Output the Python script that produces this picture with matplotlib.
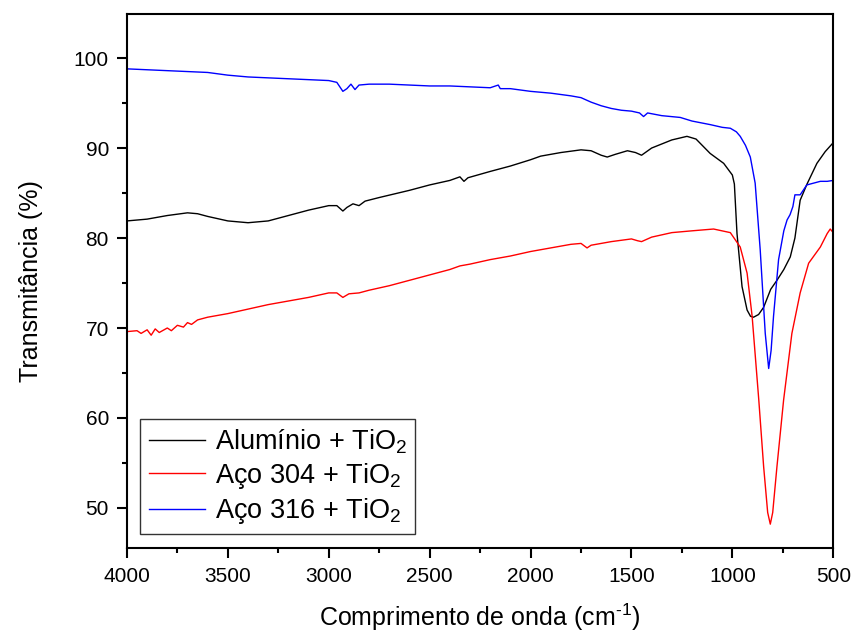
import matplotlib
matplotlib.use("Agg")
import matplotlib.pyplot as plt
from matplotlib.ticker import MultipleLocator

plt.rcParams['font.family'] = ['Liberation Sans', 'DejaVu Sans']
plt.rcParams['mathtext.fontset'] = 'custom'
plt.rcParams['mathtext.rm'] = 'Liberation Sans'
plt.rcParams['mathtext.it'] = 'Liberation Sans'

# Alumínio + TiO2
wn_al = [4000, 3900, 3800, 3700, 3650, 3600, 3500, 3400, 3300, 3200, 3100, 3000, 2960, 2930,
         2910, 2880, 2850, 2820, 2750, 2600, 2500, 2400, 2350, 2330, 2310, 2200, 2100, 2000,
         1950, 1850, 1750, 1700, 1650, 1620, 1580, 1520, 1480, 1450, 1400, 1300, 1225, 1180,
         1110, 1043, 1000, 990, 977, 952, 927, 910, 895, 870, 845, 810, 779, 745, 713, 690,
         664, 630, 581, 540, 500]
t_al = [81.9, 82.1, 82.5, 82.8, 82.7, 82.4, 81.9, 81.7, 81.9, 82.5, 83.1, 83.6, 83.6, 83.0,
        83.4, 83.8, 83.6, 84.1, 84.5, 85.3, 85.9, 86.4, 86.8, 86.3, 86.7, 87.4, 88.0, 88.7,
        89.1, 89.5, 89.8, 89.7, 89.2, 89.0, 89.3, 89.7, 89.5, 89.2, 90.0, 90.9, 91.3, 91.0,
        89.4, 88.3, 87.0, 86.0, 80.5, 74.6, 72.0, 71.3, 71.2, 71.5, 72.3, 74.3, 75.3, 76.5, 77.9, 80.0,
        84.2, 86.0, 88.3, 89.6, 90.6]

# Aço 304 + TiO2
wn_304 = [4000, 3950, 3930, 3900, 3880, 3860, 3840, 3800, 3780, 3750, 3720, 3700, 3680, 3650,
          3600, 3500, 3400, 3300, 3200, 3100, 3000, 2960, 2930, 2900, 2850, 2800, 2700, 2600,
          2500, 2400, 2350, 2300, 2200, 2100, 2000, 1900, 1800, 1750, 1720, 1700, 1600, 1500,
          1470, 1450, 1400, 1300, 1200, 1093, 1010, 961, 927, 902, 869, 845, 825, 812, 800,
          779, 746, 705, 664, 622, 564, 530, 515, 500]
t_304 = [69.6, 69.7, 69.4, 69.8, 69.2, 69.9, 69.5, 70.0, 69.7, 70.3, 70.1, 70.6, 70.4, 70.9,
         71.2, 71.6, 72.1, 72.6, 73.0, 73.4, 73.9, 73.9, 73.4, 73.8, 73.9, 74.2, 74.7, 75.3,
         75.9, 76.5, 76.9, 77.1, 77.6, 78.0, 78.5, 78.9, 79.3, 79.4, 78.9, 79.2, 79.6, 79.9,
         79.7, 79.6, 80.1, 80.6, 80.8, 81.0, 80.6, 79.0, 76.1, 71.3, 62.0, 54.6, 49.5, 48.2, 49.5,
         54.6, 62.0, 69.4, 73.9, 77.2, 79.0, 80.5, 81.0, 80.6]

# Aço 316 + TiO2
wn_316 = [4000, 3900, 3800, 3700, 3600, 3500, 3400, 3300, 3200, 3100, 3000, 2960, 2930, 2910,
          2890, 2870, 2850, 2800, 2700, 2600, 2500, 2400, 2300, 2200, 2160, 2150, 2100, 2000,
          1900, 1800, 1750, 1700, 1650, 1600, 1550, 1500, 1460, 1440, 1420, 1350, 1258, 1200,
          1109, 1050, 1010, 980, 961, 935, 911, 887, 862, 837, 820, 808, 796, 771, 745, 729,
          714, 700, 690, 664, 631, 564, 530, 500]
t_316 = [98.8, 98.7, 98.6, 98.5, 98.4, 98.1, 97.9, 97.8, 97.7, 97.6, 97.5, 97.3, 96.3, 96.6,
         97.1, 96.5, 97.0, 97.1, 97.1, 97.0, 96.9, 96.9, 96.8, 96.7, 97.0, 96.6, 96.6, 96.3,
         96.1, 95.8, 95.6, 95.1, 94.7, 94.4, 94.2, 94.1, 93.9, 93.5, 93.9, 93.6, 93.4, 93.0,
         92.6, 92.3, 92.2, 91.8, 91.3, 90.3, 89.0, 86.1, 78.7, 69.4, 65.5, 67.5, 71.3, 77.6, 80.8, 82.0,
         82.6, 83.5, 84.8, 84.8, 85.9, 86.3, 86.3, 86.4]

labels = ['Alumínio + TiO$_2$', 'Aço 304 + TiO$_2$', 'Aço 316 + TiO$_2$']

fig = plt.figure(figsize=(8.52, 6.35), dpi=100)
ax = fig.add_axes([0.149, 0.137, 0.829, 0.841])

ax.plot(wn_al, t_al, color='black', lw=1, label=labels[0])
ax.plot(wn_304, t_304, color='#ff0000', lw=1, label=labels[1])
ax.plot(wn_316, t_316, color='#0000ff', lw=1, label=labels[2])

ax.set_xlim(4000, 500)
ax.set_ylim(45.55, 104.9)
ax.xaxis.set_major_locator(MultipleLocator(500))
ax.xaxis.set_minor_locator(MultipleLocator(250))
ax.yaxis.set_major_locator(MultipleLocator(10))
ax.yaxis.set_minor_locator(MultipleLocator(5))
ax.tick_params(which='major', direction='out', length=7, width=1.5, labelsize=15)
ax.tick_params(which='minor', direction='out', length=3.5, width=1.5)
ax.tick_params(axis='x', which='major', pad=7)
ax.tick_params(axis='y', which='major', pad=6)
for s in ax.spines.values():
    s.set_linewidth(1.5)

ax.set_xlabel('Comprimento de onda (cm$^{\\text{-1}}$)', fontsize=18, labelpad=11)
ax.set_ylabel('Transmitância (%)', fontsize=18, labelpad=22)

leg = ax.legend(loc='lower left', fontsize=19.5, fancybox=False, framealpha=1,
                edgecolor='#333333', handlelength=2.1, handletextpad=0.35,
                borderaxespad=0.5, labelspacing=0.2, borderpad=0.3)
leg.get_frame().set_linewidth(1)

fig.savefig('out.png', dpi=100)
